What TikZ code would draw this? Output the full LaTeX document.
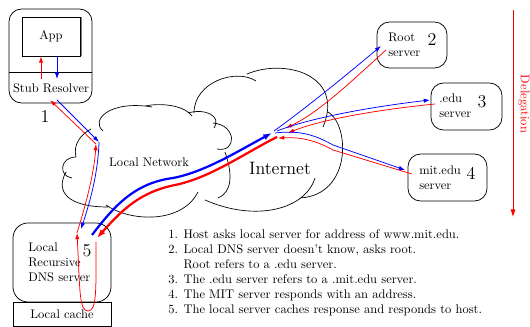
\documentclass[tikz,border=0pt]{standalone}
\usetikzlibrary{arrows.meta}

\tikzset{
  srvbox/.style={draw, line width=0.6pt, rounded corners=10pt, inner sep=0pt},
  plainbox/.style={draw, line width=0.6pt, inner sep=0pt},
  qry/.style={blue, line width=0.6pt, -{Latex[length=5pt,width=3.4pt]}},
  rsp/.style={red, line width=0.6pt, -{Latex[length=5pt,width=3.4pt]}},
  bigqry/.style={blue, line width=1.8pt, -{Latex[length=7pt,width=5pt]}},
  bigrsp/.style={red, line width=1.8pt, -{Latex[length=7pt,width=5pt]}},
  stepno/.style={font=\Large, inner sep=0pt},
  lbl/.style={align=left, inner sep=0pt},
  cloudedge/.style={line width=0.55pt}
}

\begin{document}
\begin{tikzpicture}[x=0.8pt,y=-0.8pt]
		\useasboundingbox (0,0) rectangle (530,327);

		% clouds
		\draw[cloudedge] (103,131) .. controls (90,120) and (110,100) .. (152,107)
			(145,106) .. controls (165,102) and (186,107) .. (192,116)
			(188,113) .. controls (205,108) and (222,116) .. (214,128)
			(213,123) .. controls (237,125) and (237,153) .. (217,149)
			(91,129) .. controls (80,135) and (73,145) .. (76,157)
			(76,157) .. controls (60,157) and (58,176) .. (72,178)
			(66,172) .. controls (55,192) and (68,207) .. (108,207)
			(106,205) .. controls (130,222) and (182,224) .. (198,192);
		\draw[cloudedge] (194,113) .. controls (194,82) and (236,68) .. (256,81)
			(247,74) .. controls (285,58) and (345,75) .. (323,127)
			(328,112) .. controls (350,125) and (352,195) .. (300,198)
			(315,178) .. controls (305,210) and (255,222) .. (205,200)
			(225,152) .. controls (233,175) and (232,192) .. (218,198);
		\node[inner sep=0pt] (lan) at (149,162) {Local Network};
		\node[inner sep=0pt, font=\Large] (inet) at (280,168) {Internet};

		% host
		\node[srvbox, minimum width=66.4pt, minimum height=75.2pt] (host) at (50.5,56) {};
		\node[plainbox, minimum width=46.4pt, minimum height=31.2pt] (app) at (51,36.5) {App};
		\draw[gray, line width=1pt] ([xshift=1pt]app.north east) -- ([xshift=1pt]app.south east);
		\coordinate (div) at (0,72);
		\draw[line width=0.6pt] (host.west |- div) -- (host.east |- div);
		\node[inner sep=0pt] (stub) at (51,88) {Stub Resolver};
		\coordinate (stubup) at (41,79);
		\coordinate (stubdn) at (57,79);
		\draw[rsp] (stubup) -- (stubup |- app.south);
		\draw[qry] (stubdn |- app.south) -- (stubdn);
		\node[stepno] (n1) at (45,117) {1};

		% local server + cache
		\node[srvbox, rounded corners=12pt, minimum width=78.4pt, minimum height=63.2pt] (ldns) at (62,262.5) {};
		\node[plainbox, minimum width=78.4pt, minimum height=19.2pt] (cache) at (62,314) {Local cache};
		\node[lbl, anchor=west] (ldnstxt) at (28,262) {Local\\Recursive\\DNS server};
		\node[stepno] (n5) at (87,251) {5};

		% remote servers
		\node[srvbox, minimum width=56pt, minimum height=36.8pt] (root) at (412,45) {};
		\node[lbl, anchor=west] (roottxt) at (388,45) {Root\\server};
		\node[stepno] (n2) at (432,40) {2};
		\node[srvbox, minimum width=56.8pt, minimum height=37.6pt] (edu) at (466.5,106.5) {};
		\node[lbl, anchor=west] (edutxt) at (439,106) {.edu\\server};
		\node[stepno] (n3) at (482,102) {3};
		\node[srvbox, minimum width=63.2pt, minimum height=37.6pt] (mit) at (447.5,177.5) {};
		\node[lbl, anchor=west] (mittxt) at (419,178) {mit.edu\\server};
		\node[stepno] (n4) at (471,173) {4};

		% delegation
		\coordinate (deltop) at (513,10);
		\coordinate (delbot) at (513,217);
		\draw[red, line width=0.6pt, -{Latex[length=6pt,width=4pt]}] (deltop) -- (delbot);
		\node[red, rotate=-90, inner sep=0pt] (deleg) at (524,104) {Delegation};

		% stub <-> local server
		\coordinate (stubq) at (57,100);
		\coordinate (stubr) at (50,100);
		\coordinate (lanq) at (99,142);
		\coordinate (lanr) at (96,144);
		\coordinate (dnsq) at (81,229);
		\coordinate (dnsr) at (77,233);
		\coordinate (cachetop) at (96,242);
		\draw[qry] (stubq) -- (lanq);
		\draw[qry] (lanq) .. controls (98,175) and (89,205) .. (dnsq);
		\draw[rsp] (dnsr) .. controls (85,207) and (94,175) .. (lanr);
		\draw[rsp] (lanr) -- (stubr);
		\draw[rsp] (cachetop) .. controls (96,290) and (97,311) .. (88,311) .. controls (79,311) and (80,290) .. (dnsr);

		% local server <-> internet
		\coordinate (dnsbq) at (92,235);
		\coordinate (hubq) at (272,133);
		\coordinate (hubr) at (277,137);
		\coordinate (dnsbr) at (97,238);
		\draw[bigqry] (dnsbq) .. controls (115,205) and (135,183) .. (173,178) .. controls (205,172) and (240,150) .. (hubq);
		\draw[bigrsp] (hubr) .. controls (245,153) and (210,178) .. (175,185) .. controls (140,192) and (122,210) .. (dnsbr);

		% internet <-> servers
		\coordinate (rootq) at (381,46);
		\coordinate (rootr) at (386,50);
		\coordinate (hubrootq) at (274,131);
		\coordinate (hubrootr) at (286,128);
		\draw[qry] (hubrootq) .. controls (310,105) and (350,72) .. (rootq);
		\draw[rsp] (rootr) .. controls (355,78) and (320,112) .. (hubrootr);
		\coordinate (eduq) at (430,100);
		\coordinate (edur) at (435,104);
		\coordinate (hubeduq) at (277,131);
		\coordinate (hubedur) at (288,133);
		\draw[qry] (hubeduq) .. controls (310,118) and (370,107) .. (eduq);
		\draw[rsp] (edur) .. controls (375,110) and (320,120) .. (hubedur);
		\coordinate (mitq) at (405,170);
		\coordinate (mitr) at (412,174);
		\coordinate (hubmitq) at (275,133);
		\coordinate (hubmitr) at (278,138);
		\draw[qry] (hubmitq) .. controls (300,130) and (315,135) .. (333,145) -- (mitq);
		\draw[rsp] (mitr) -- (333,150) .. controls (315,140) and (300,137) .. (hubmitr);

		% steps
		\node[lbl, anchor=north west] (steps) at (168,229) {1. Host asks local server for address of www.mit.edu.\\
			2. Local DNS server doesn't know, asks root.\\
			\hphantom{2. }Root refers to a .edu server.\\
			3. The .edu server refers to a .mit.edu server.\\
			4. The MIT server responds with an address.\\
			5. The local server caches response and responds to host.};
	\end{tikzpicture}
\end{document}
